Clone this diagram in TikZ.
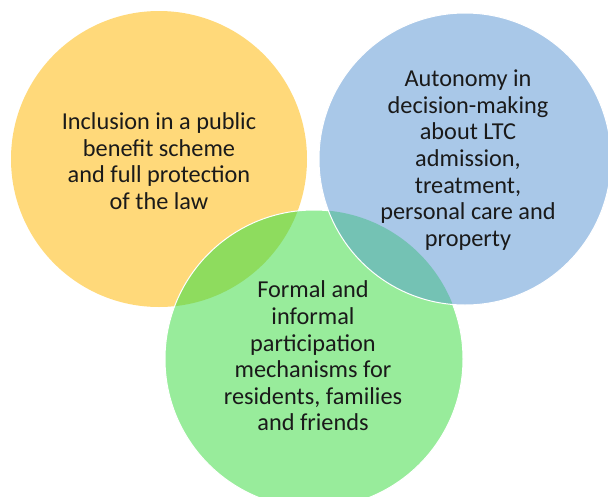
\documentclass[tikz,border=0pt]{standalone}
\usepackage{fontspec}
\setmainfont{Carlito}
\definecolor{cyellow}{HTML}{FFD97A}
\definecolor{cgreen}{HTML}{98EC9B}
\definecolor{cblue}{HTML}{A9C8E8}
\definecolor{cyg}{HTML}{8EDC5E}
\definecolor{cbg}{HTML}{74C2B4}
\definecolor{ctext}{HTML}{1A1A1A}
\begin{document}
\begin{tikzpicture}[x=1pt,y=-1pt,
  lbl/.style={align=center,text=ctext,font=\fontsize{24.3}{26.6}\selectfont,inner sep=0pt},
  rim/.style={draw=white,line width=1pt}]
\useasboundingbox (0,0) rectangle (608,496);
\coordinate (cy) at (159,159);
\coordinate (cg) at (314,359);
\coordinate (cb) at (465,159);
\def\ry{148}\def\rg{149}\def\rb{146}
% yellow
\fill[cyellow] (cy) circle[radius=\ry];
% green
\fill[cgreen] (cg) circle[radius=\rg];
\begin{scope}
  \clip (cy) circle[radius=\ry];
  \fill[cyg] (cg) circle[radius=\rg];
\end{scope}
\draw[rim] (cg) circle[radius=\rg];
% blue
\fill[cblue] (cb) circle[radius=\rb];
\begin{scope}
  \clip (cg) circle[radius=\rg];
  \fill[cbg] (cb) circle[radius=\rb];
\end{scope}
\draw[rim] (cb) circle[radius=\rb];
% texts
\node[lbl] (ty) at (159,161) {Inclusion in a public\\benefit scheme\\and full protection\\of the law};
\node[lbl] (tb) at (468,160) {Autonomy in\\decision-making\\about LTC\\admission,\\treatment,\\personal care and\\property};
\node[lbl] (tg) at (313,356) {Formal and\\informal\\participation\\mechanisms for\\residents, families\\and friends};
\end{tikzpicture}
\end{document}
